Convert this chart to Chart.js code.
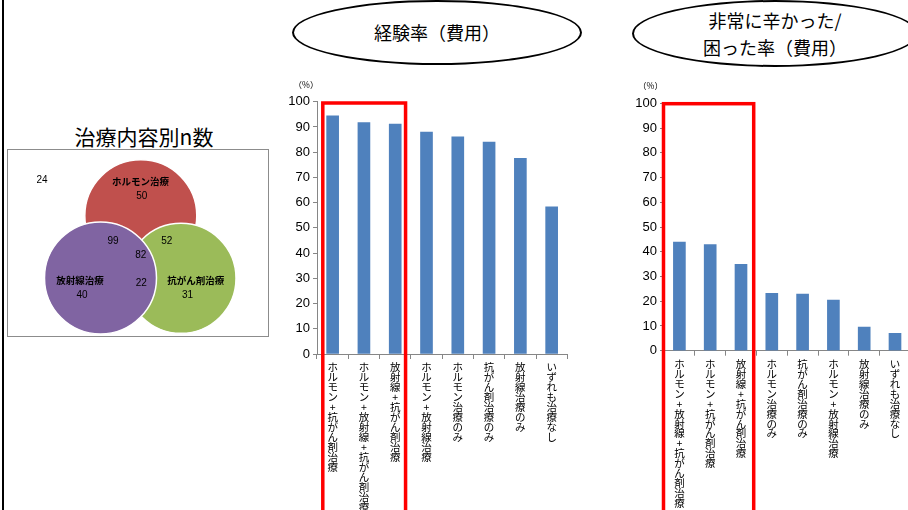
<!DOCTYPE html>
<html><head><meta charset="utf-8">
<script src="https://cdn.jsdelivr.net/npm/chart.js@4"></script>
<style>
html,body{margin:0;padding:0;width:908px;height:510px;overflow:hidden;background:#fff;font-family:"Noto Sans CJK JP",sans-serif;}
.abs{position:absolute;}
#leftline{left:2px;top:0;width:2px;height:510px;background:#000;}
.ell{border:2.5px solid #000;border-radius:50%;box-sizing:border-box;display:flex;align-items:center;justify-content:center;text-align:center;font-size:18px;line-height:27px;color:#000;}
#vtitle{left:44px;top:123px;width:200px;text-align:center;font-size:21px;line-height:26px;color:#000;}
#vbox{left:7px;top:149px;width:262px;height:188px;border:1px solid #8c8c8c;box-sizing:border-box;}
</style></head><body>
<div id="leftline" class="abs"></div>
<div class="abs ell" style="left:292px;top:0;width:290px;height:65px;">経験率（費用）</div>
<div class="abs ell" style="left:632px;top:0;width:286px;height:67px;">非常に辛かった/<br>困った率（費用）</div>
<div id="vtitle" class="abs">治療内容別n数</div>
<div id="vbox" class="abs"></div>
<canvas id="venn" class="abs" style="left:8px;top:150px" width="261" height="187"></canvas>
<canvas id="c1" class="abs" style="left:270px;top:80px" width="300" height="430"></canvas>
<canvas id="c2" class="abs" style="left:620px;top:80px" width="300" height="430"></canvas>
<script>
// ---- data ----
const vennCircleNames = ['ホルモン治療', '抗がん剤治療', '放射線治療'];
const vennRegionNames = ['いずれも治療なし', 'ホルモン治療のみ', 'ホルモン+放射線', 'ホルモン+抗がん剤', 'ホルモン+放射線+抗がん剤', '放射線治療のみ', '放射線+抗がん剤', '抗がん剤治療のみ'];
const vennCounts = [24, 50, 99, 52, 82, 40, 22, 31];

const cats1 = ['ホルモン+抗がん剤治療', 'ホルモン+放射線+抗がん剤治療', '放射線+抗がん剤治療', 'ホルモン+放射線治療', 'ホルモン治療のみ', '抗がん剤治療のみ', '放射線治療のみ', 'いずれも治療なし'];
const vals1 = [94.4, 91.7, 91.1, 88.0, 86.1, 84.0, 77.6, 58.3];

const cats2 = ['ホルモン+放射線+抗がん剤治療', 'ホルモン+抗がん剤治療', '放射線+抗がん剤治療', 'ホルモン治療のみ', '抗がん剤治療のみ', 'ホルモン+放射線治療', '放射線治療のみ', 'いずれも治療なし'];
const vals2 = [43.9, 42.9, 34.9, 23.2, 22.9, 20.5, 9.5, 7.0];

const yMin = 0, yMax = 100, yStep = 10;
const unitLabel = '（%）';

// ---- layout (positions / sizes / styles) ----
const vennCircleLayout = [
  {x: 132.8, y: 65.8, r: 56, color: '#C0504D'},
  {x: 173, y: 128.3, r: 55, color: '#9BBB59'},
  {x: 92.5, y: 127.9, r: 56, color: '#8064A2'}
];
const vennCircleNamePos = [[132.5, 31.7], [187.8, 130.7], [72, 130.7]];
const vennCountPos = [[34, 30.7], [133.7, 46], [105, 91], [158.8, 91], [132.8, 105], [74, 145], [133.3, 133.3], [179.5, 145]];

const vennText = {
  id: 'vennText',
  afterDatasetsDraw(chart) {
    const ctx = chart.ctx, xs = chart.scales.x, ys = chart.scales.y;
    ctx.save();
    ctx.textAlign = 'center'; ctx.textBaseline = 'middle'; ctx.fillStyle = '#000';
    ctx.font = 'bold 9.5px "Noto Sans CJK JP"';
    vennCircleNames.forEach((n, i) => ctx.fillText(n, xs.getPixelForValue(vennCircleNamePos[i][0]), ys.getPixelForValue(vennCircleNamePos[i][1])));
    ctx.font = '10px "Liberation Sans", Arial';
    vennCounts.forEach((c, i) => ctx.fillText(String(c), xs.getPixelForValue(vennCountPos[i][0]), ys.getPixelForValue(vennCountPos[i][1])));
    ctx.restore();
  }
};

new Chart(document.getElementById('venn'), {
  type: 'bubble',
  data: {
    labels: vennCircleNames,
    datasets: [{
      data: vennCircleLayout.map(c => ({x: c.x, y: c.y, r: c.r})),
      backgroundColor: vennCircleLayout.map(c => c.color),
      borderColor: '#ffffff', borderWidth: 1.5, clip: false
    }]
  },
  options: {
    responsive: false, animation: false, devicePixelRatio: 1,
    layout: {padding: 0, autoPadding: false},
    plugins: {legend: {display: false}, tooltip: {enabled: false}},
    scales: {
      x: {type: 'linear', min: 0, max: 261, display: false},
      y: {type: 'linear', min: 0, max: 187, reverse: true, display: false}
    }
  },
  plugins: [vennText]
});

const redBox = {
  id: 'redBox',
  afterDraw(chart, args, o) {
    const x = chart.scales.x, y = chart.scales.y, ctx = chart.ctx;
    const cw = (x.right - x.left) / x.ticks.length;
    const l = x.left + o.dl, r = x.left + 3 * cw - o.dr, t = y.getPixelForValue(yMax) + o.dt;
    ctx.save();
    ctx.strokeStyle = '#FF0000'; ctx.lineWidth = 3.5;
    ctx.strokeRect(l, t, r - l, chart.height + 20 - t);
    ctx.font = '8.5px "Noto Sans CJK JP"'; ctx.fillStyle = '#000';
    ctx.textAlign = 'center'; ctx.textBaseline = 'middle';
    ctx.fillText(unitLabel, y.right + o.ux, y.getPixelForValue(yMax) + o.uy);
    ctx.restore();
  }
};

function barChart(id, cats, vals, L) {
  return new Chart(document.getElementById(id), {
    type: 'bar',
    data: {labels: cats.map(s => Array.from(s)), datasets: [{data: vals, backgroundColor: '#4F81BD', barThickness: 12, borderWidth: 0}]},
    options: {
      responsive: false, animation: false, devicePixelRatio: 1,
      layout: {padding: {top: L.pt, right: L.pr, left: 0, bottom: 0}},
      plugins: {legend: {display: false}, tooltip: {enabled: false}, redBox: L.box},
      scales: {
        x: {
          grid: {drawOnChartArea: false, tickLength: 5, color: '#868686', offset: true},
          border: {color: '#868686'},
          ticks: {autoSkip: false, maxRotation: 0, minRotation: 0, padding: 3, color: '#000',
                  font: {family: '"Noto Sans CJK JP"', size: 10.5, lineHeight: 0.95}},
          afterFit: s => { s.height = L.xh; }
        },
        y: {
          min: yMin, max: yMax,
          ticks: {stepSize: yStep, padding: 3, color: '#000', font: {family: '"Liberation Sans", Arial', size: 13}},
          grid: {drawOnChartArea: false, tickLength: 4, color: '#868686'},
          border: {color: '#868686'},
          afterFit: s => { s.width = L.yw; }
        }
      }
    },
    plugins: [redBox]
  });
}

barChart('c1', cats1, vals1, {pt: 21.7, pr: 2.7, yw: 47, xh: 156, box: {dl: 5.8, dr: 5.3, dt: 1.3, ux: -11, uy: -16.7}});
barChart('c2', cats2, vals2, {pt: 23.3, pr: 9.6, yw: 44, xh: 159.3, box: {dl: -0.5, dr: 2.7, dt: 0.4, ux: -13.5, uy: -17.3}});
</script>
</body></html>
